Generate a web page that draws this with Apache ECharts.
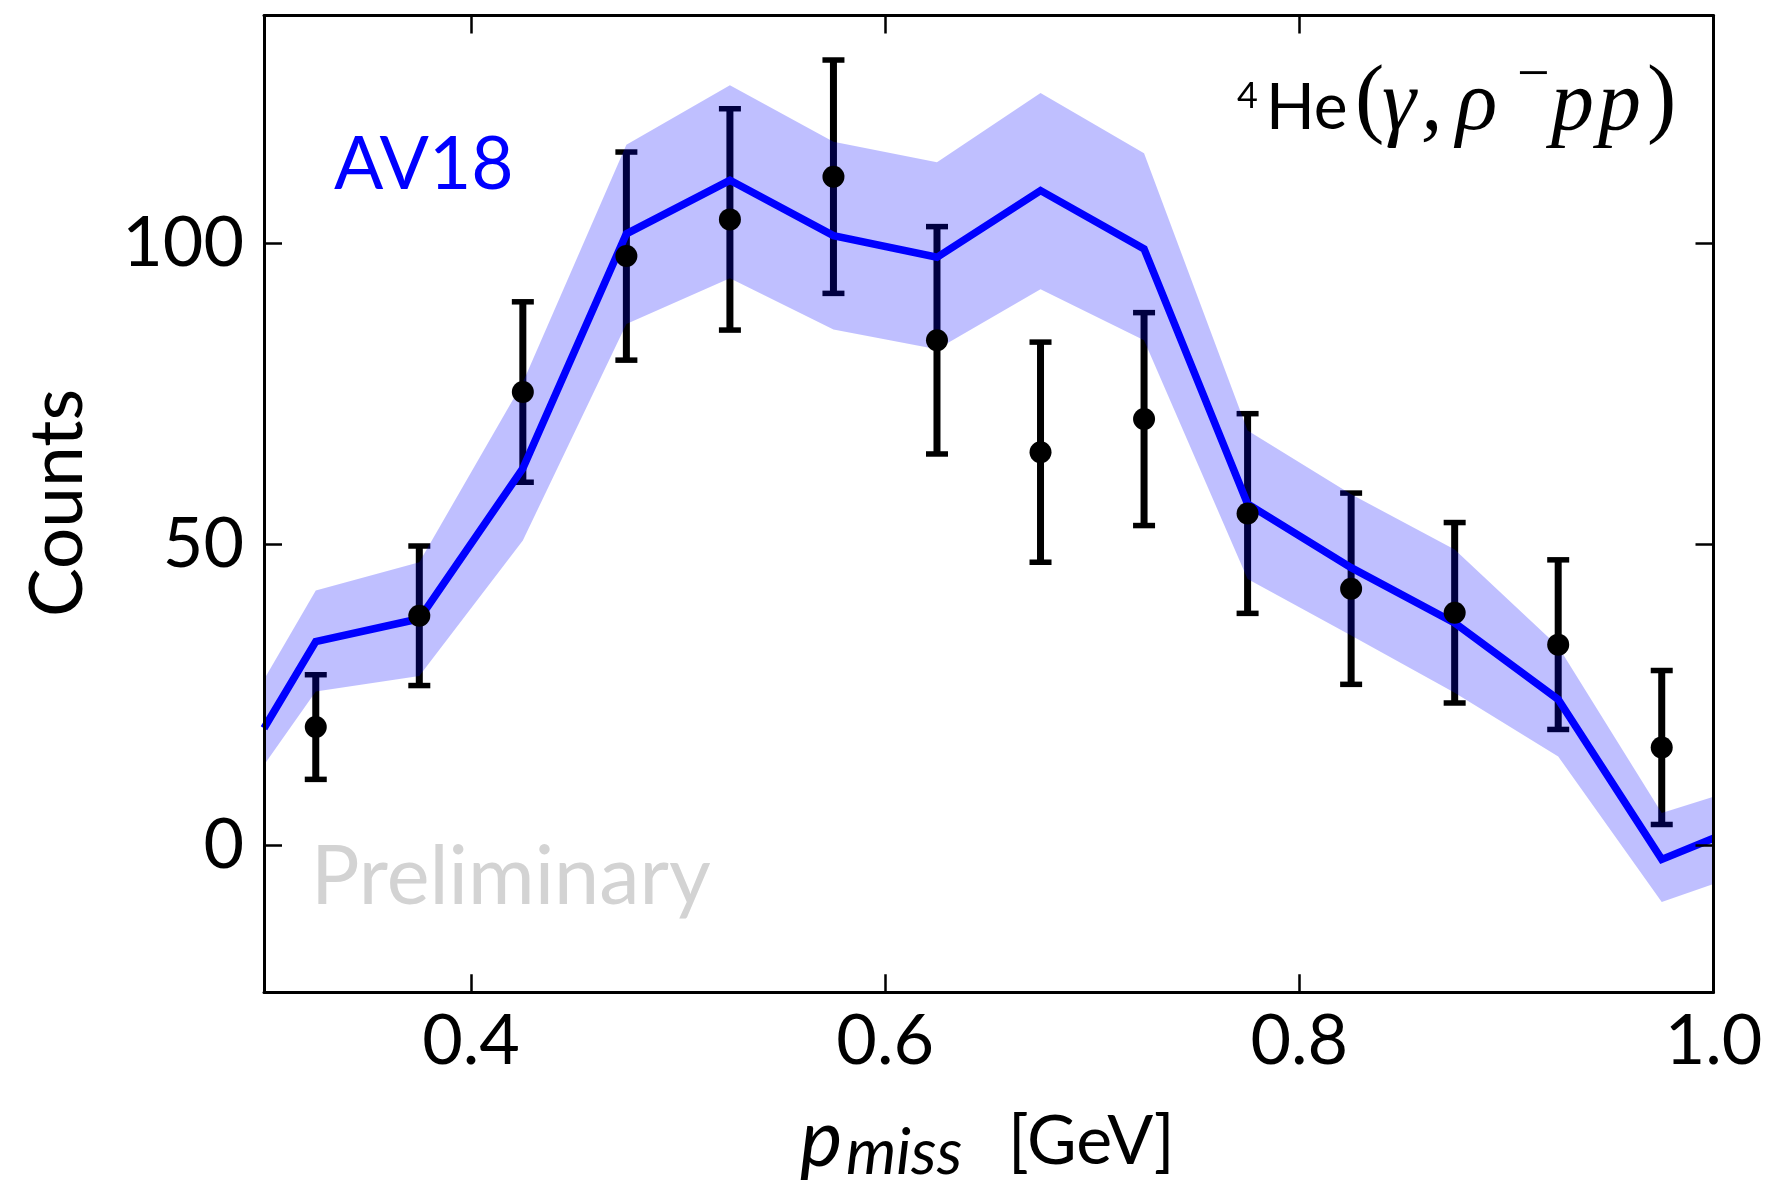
<!DOCTYPE html>
<html>
<head>
<meta charset="utf-8">
<script src="https://cdn.jsdelivr.net/npm/echarts@6/dist/echarts.min.js"></script>
<style>
  html, body { margin: 0; padding: 0; background: #ffffff; }
  #chart { width: 1773px; height: 1184px; }
</style>
</head>
<body>
<div id="chart"></div>
<script>
// Measured counts per p_miss bin (bin centres, GeV)
const pmissBins = [0.325, 0.375, 0.425, 0.475, 0.525, 0.575, 0.625, 0.675, 0.725, 0.775, 0.825, 0.875, 0.925, 0.975];
const counts = [19.6, 38.1, 75.3, 97.9, 104.0, 111.1, 83.9, 65.3, 70.8, 55.1, 42.6, 38.6, 33.3, 16.2];
const countErrors = [8.7, 11.6, 15.0, 17.3, 18.4, 19.4, 18.9, 18.3, 17.7, 16.6, 15.9, 15.0, 14.1, 12.8];

// AV18 prediction: central curve and uncertainty band
const av18X = [0.3, 0.325, 0.375, 0.425, 0.475, 0.525, 0.575, 0.625, 0.675, 0.725, 0.775, 0.825, 0.875, 0.925, 0.975, 1.0];
const av18Central = [19.4, 33.8, 37.6, 62.6, 101.6, 110.5, 101.3, 97.7, 108.8, 99.1, 56.7, 46.1, 36.9, 24.2, -2.4, 1.1];
const av18Upper = [27.5, 42.3, 47.0, 76.9, 116.4, 126.3, 116.9, 113.5, 125.0, 115.0, 68.9, 58.3, 49.1, 33.0, 5.3, 8.0];
const av18Lower = [13.3, 25.5, 28.1, 50.6, 86.6, 94.2, 85.7, 82.4, 92.4, 83.9, 44.2, 34.8, 25.3, 14.7, -9.5, -6.5];

// Axis ranges and tick positions
const xRange = [0.3, 1.0];
const yRange = [-24.5, 137.9];
const xTicks = [0.4, 0.6, 0.8, 1.0];
const yTicks = [0, 50, 100];

const FONT = 'Lato, "Open Sans", sans-serif';
const SERIF = '"Liberation Serif", "DejaVu Serif", serif';

const chart = echarts.init(document.getElementById('chart'), null, { renderer: 'canvas' });

const tickStyle = { show: true, inside: true, length: 18, lineStyle: { color: '#000', width: 2.5 } };
const spine = { show: true, onZero: false, lineStyle: { color: '#000', width: 3 } };

const errorData = pmissBins.map((x, i) => [x, counts[i] - countErrors[i], counts[i] + countErrors[i]]);
const bandData = av18X.map((x, i) => [x, av18Lower[i], av18Upper[i]]);

// helper for placed text pieces
function txt(text, x, y, font, fill, extra) {
  return Object.assign({
    type: 'text', x: x, y: y, z: 20, silent: true,
    style: { text: text, font: font, fill: fill || '#000', align: 'left', verticalAlign: 'middle' }
  }, extra || {});
}

const option = {
  backgroundColor: '#ffffff',
  animation: false,
  grid: { left: 264, right: 59.5, top: 15.5, bottom: 191.7, containLabel: false },
  xAxis: [
    {
      type: 'value', min: xRange[0], max: xRange[1], position: 'bottom', z: 10,
      axisLine: spine,
      axisTick: Object.assign({ customValues: xTicks }, tickStyle),
      axisLabel: {
        customValues: xTicks, margin: 14, color: '#000', fontFamily: FONT, fontSize: 70,
        formatter: v => v.toFixed(1)
      },
      splitLine: { show: false }
    },
    {
      type: 'value', min: xRange[0], max: xRange[1], position: 'top', z: 10,
      axisLine: spine,
      axisTick: Object.assign({ customValues: xTicks }, tickStyle),
      axisLabel: { show: false },
      splitLine: { show: false }
    }
  ],
  yAxis: [
    {
      type: 'value', min: yRange[0], max: yRange[1], position: 'left', z: 10,
      axisLine: spine,
      axisTick: Object.assign({ customValues: yTicks }, tickStyle),
      axisLabel: { customValues: yTicks, margin: 20, color: '#000', fontFamily: FONT, fontSize: 70 },
      splitLine: { show: false }
    },
    {
      type: 'value', min: yRange[0], max: yRange[1], position: 'right', z: 10,
      axisLine: spine,
      axisTick: Object.assign({ customValues: yTicks }, tickStyle),
      axisLabel: { show: false },
      splitLine: { show: false }
    }
  ],
  series: [
    {
      // statistical error bars with caps
      type: 'custom', name: 'errors', z: 1, silent: true,
      data: errorData,
      renderItem: function (params, api) {
        const x = api.value(0);
        const lo = api.coord([x, api.value(1)]);
        const hi = api.coord([x, api.value(2)]);
        const cap = 11;
        const capStyle = { stroke: '#000', lineWidth: 5.5 };
        return {
          type: 'group',
          children: [
            { type: 'line', shape: { x1: lo[0], y1: lo[1], x2: hi[0], y2: hi[1] }, style: { stroke: '#000', lineWidth: 7 } },
            { type: 'line', shape: { x1: lo[0] - cap, y1: lo[1], x2: lo[0] + cap, y2: lo[1] }, style: capStyle },
            { type: 'line', shape: { x1: hi[0] - cap, y1: hi[1], x2: hi[0] + cap, y2: hi[1] }, style: capStyle }
          ]
        };
      }
    },
    {
      // AV18 uncertainty band as one filled polygon
      type: 'custom', name: 'AV18 band', z: 2, silent: true,
      data: bandData,
      renderItem: function (params, api) {
        if (params.dataIndex !== 0) return null;
        const upper = bandData.map(d => api.coord([d[0], d[2]]));
        const lower = bandData.slice().reverse().map(d => api.coord([d[0], d[1]]));
        return {
          type: 'polygon',
          shape: { points: upper.concat(lower) },
          style: { fill: 'rgba(0, 0, 255, 0.25)', stroke: 'none' }
        };
      }
    },
    {
      type: 'line', name: 'AV18', z: 3, silent: true,
      data: av18X.map((x, i) => [x, av18Central[i]]),
      symbol: 'none',
      lineStyle: { color: '#0000ff', width: 7.5, join: 'miter', opacity: 1 }
    },
    {
      type: 'scatter', name: 'data', z: 4, silent: true,
      data: pmissBins.map((x, i) => [x, counts[i]]),
      symbol: 'circle', symbolSize: 22,
      itemStyle: { color: '#000', opacity: 1 }
    }
  ],
  graphic: [
    // y-axis title
    txt('Counts', 58, 503, '73px ' + FONT, '#000', { rotation: Math.PI / 2, style: { text: 'Counts', font: '73px ' + FONT, fill: '#000', align: 'center', verticalAlign: 'middle' } }),
    // x-axis title: p_miss [GeV]
    txt('p', 800, 1140, 'italic 80px ' + FONT),
    txt('miss', 846, 1153, 'italic 64px ' + FONT),
    txt('[GeV]', 1008, 1142, '68px ' + FONT),
    // model label
    txt('AV18', 334, 165, '73px ' + FONT, '#0000ff'),
    // watermark
    txt('Preliminary', 311, 878, '81px ' + FONT, '#d3d3d3'),
    // reaction label: 4He(γ, ρ− pp)
    txt('4', 1237, 96, '36px ' + FONT),
    txt('He', 1266, 108, '64px ' + FONT),
    txt('(', 1355, 103, '88px ' + SERIF),
    txt('γ', 1382, 106, 'italic 86px ' + SERIF),
    txt(',', 1421, 106, 'italic 86px ' + SERIF),
    txt('ρ', 1456, 106, 'italic 86px ' + SERIF),
    txt('\u2212', 1517, 77, '58px ' + SERIF),
    txt('p', 1551, 106, 'italic 86px ' + SERIF),
    txt('p', 1598, 106, 'italic 86px ' + SERIF),
    txt(')', 1647, 103, '88px ' + SERIF)
  ]
};

chart.setOption(option);
</script>
</body>
</html>
